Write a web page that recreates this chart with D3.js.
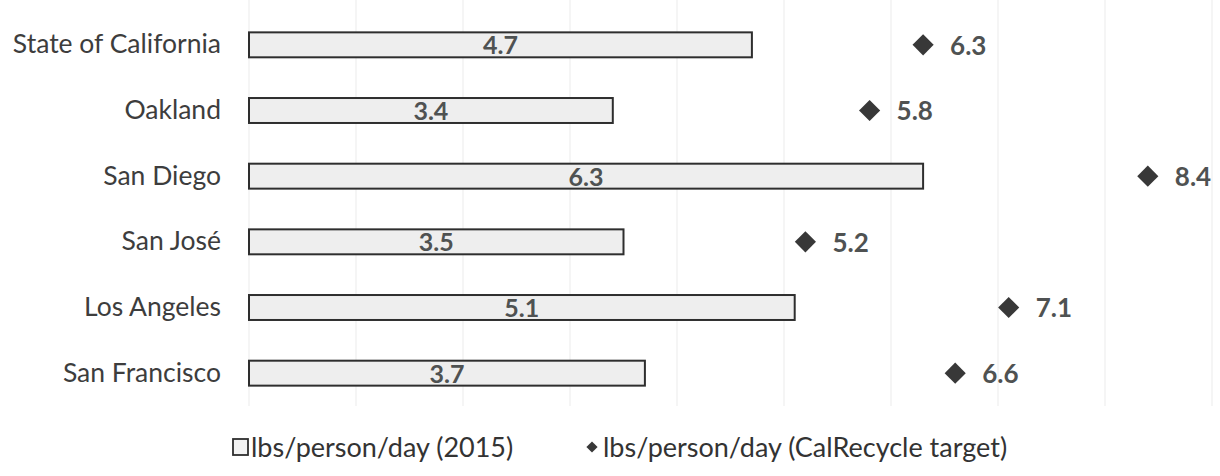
<!DOCTYPE html>
<html>
<head>
<meta charset="utf-8">
<script src="https://cdn.jsdelivr.net/npm/d3@7"></script>
<style>
  html, body { margin: 0; padding: 0; background: #fff; }
  svg { display: block; }
</style>
</head>
<body>
<svg id="chart" width="1220" height="476"></svg>
<script>
// Waste generation per person per day, 2015 actual vs. CalRecycle target
const categories = ["State of California", "Oakland", "San Diego", "San José", "Los Angeles", "San Francisco"];
const actual2015 = [4.7, 3.4, 6.3, 3.5, 5.1, 3.7];
const targets = [6.3, 5.8, 8.4, 5.2, 7.1, 6.6];
const xTicks = [0, 1, 2, 3, 4, 5, 6, 7, 8, 9];
const legendLabels = ["lbs/person/day (2015)", "lbs/person/day (CalRecycle target)"];

const svg = d3.select("#chart");
const font = "Lato, 'Open Sans', sans-serif";

const x = d3.scaleLinear().domain([0, 9]).range([249, 1212]);
const y = d3.scaleBand().domain(categories).range([12, 406]).paddingInner(0.62).paddingOuter(0.31);

// faint vertical gridlines
svg.append("g")
  .selectAll("line")
  .data(xTicks)
  .join("line")
  .attr("x1", d => x(d)).attr("x2", d => x(d))
  .attr("y1", 0).attr("y2", 406)
  .attr("stroke", "#f2f2f2")
  .attr("stroke-width", 1.5);

// category axis (no line, no ticks)
const yAxis = svg.append("g")
  .attr("transform", `translate(${x(0) - 28},0)`)
  .call(d3.axisLeft(y).tickSize(0).tickPadding(0));
yAxis.select(".domain").remove();
yAxis.selectAll("text")
  .attr("font-family", font)
  .attr("font-size", 26.5)
  .attr("fill", "#3d3d3d");

const rows = categories.map((c, i) => ({ c, v: actual2015[i], t: targets[i] }));

// 2015 bars
svg.append("g")
  .selectAll("rect")
  .data(rows)
  .join("rect")
  .attr("x", x(0))
  .attr("y", d => y(d.c))
  .attr("width", d => x(d.v) - x(0))
  .attr("height", y.bandwidth())
  .attr("fill", "#eeeeee")
  .attr("stroke", "#2e2e2e")
  .attr("stroke-width", 2);

// bar value labels
svg.append("g")
  .selectAll("text")
  .data(rows)
  .join("text")
  .attr("x", d => (x(0) + x(d.v)) / 2)
  .attr("y", d => y(d.c) + y.bandwidth() / 2)
  .attr("dy", "0.38em")
  .attr("text-anchor", "middle")
  .attr("font-family", font)
  .attr("font-weight", "bold")
  .attr("font-size", 25)
  .attr("fill", "#4f5252")
  .text(d => d.v.toFixed(1));

// target markers
const diamond = d3.symbol().type(d3.symbolDiamond2).size(285);
svg.append("g")
  .selectAll("path")
  .data(rows)
  .join("path")
  .attr("transform", d => `translate(${x(d.t)},${y(d.c) + y.bandwidth() / 2})`)
  .attr("d", diamond)
  .attr("fill", "#383838");

svg.append("g")
  .selectAll("text")
  .data(rows)
  .join("text")
  .attr("x", d => x(d.t) + 27)
  .attr("y", d => y(d.c) + y.bandwidth() / 2)
  .attr("dy", "0.38em")
  .attr("font-family", font)
  .attr("font-weight", "bold")
  .attr("font-size", 26)
  .attr("fill", "#4f5252")
  .text(d => d.t.toFixed(1));

// legend
const lg = svg.append("g").attr("font-family", font).attr("font-size", 27).attr("fill", "#333");
lg.append("rect")
  .attr("x", 233).attr("y", 439).attr("width", 15).attr("height", 16)
  .attr("fill", "#f2f2f2").attr("stroke", "#2e2e2e").attr("stroke-width", 1.8);
lg.append("text").attr("x", 251).attr("y", 447).attr("dy", "0.36em").text(legendLabels[0]);
lg.append("path")
  .attr("transform", "translate(592,447)")
  .attr("d", d3.symbol().type(d3.symbolDiamond2).size(80)())
  .attr("fill", "#383838");
lg.append("text").attr("x", 603).attr("y", 447).attr("dy", "0.36em").text(legendLabels[1]);
</script>
</body>
</html>
